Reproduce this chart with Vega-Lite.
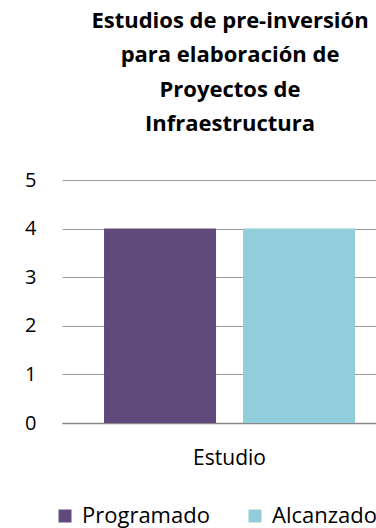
{
  "$schema": "https://vega.github.io/schema/vega-lite/v6.json",
  "width": 314,
  "height": 243,
  "autosize": {"type": "none"},
  "padding": {"left": 62, "top": 180, "right": 0, "bottom": 105},
  "background": "white",
  "title": {
    "text": ["Estudios de pre-inversión", "para elaboración de", "Proyectos de", "Infraestructura"],
    "font": "Open Sans",
    "fontSize": 22,
    "fontWeight": "bold",
    "color": "black",
    "lineHeight": 34.5,
    "anchor": "middle",
    "frame": "group",
    "baseline": "bottom",
    "dx": 11,
    "offset": 12
  },
  "config": {"view": {"stroke": null}},
  "data": {
    "values": [
      {"categoria": "Estudio", "serie": "Programado", "valor": 4},
      {"categoria": "Estudio", "serie": "Alcanzado", "valor": 4}
    ]
  },
  "mark": {"type": "bar"},
  "encoding": {
    "x": {
      "field": "categoria",
      "type": "nominal",
      "scale": {"paddingInner": 0, "paddingOuter": 0.1255, "align": 0.667},
      "axis": {
        "title": null,
        "labelAngle": 0,
        "labelFont": "Open Sans",
        "labelFontSize": 21,
        "labelColor": "black",
        "labelPadding": 24,
        "ticks": false,
        "domainColor": "#888888",
        "domainWidth": 1.5,
        "grid": false
      }
    },
    "xOffset": {
      "field": "serie",
      "type": "nominal",
      "sort": ["Programado", "Alcanzado"],
      "scale": {"paddingInner": 0.194, "paddingOuter": 0}
    },
    "y": {
      "field": "valor",
      "type": "quantitative",
      "scale": {"domain": [0, 5]},
      "axis": {
        "values": [0, 1, 2, 3, 4, 5],
        "title": null,
        "domain": false,
        "ticks": false,
        "labelPadding": 26,
        "labelFont": "Open Sans",
        "labelFontSize": 20,
        "labelColor": "black",
        "gridColor": "#999999",
        "gridWidth": 1
      }
    },
    "color": {
      "field": "serie",
      "type": "nominal",
      "sort": ["Programado", "Alcanzado"],
      "scale": {"range": ["#604A7B", "#92CDDC"]},
      "legend": {
        "orient": "none",
        "legendX": -8,
        "legendY": 325,
        "direction": "horizontal",
        "title": null,
        "symbolType": "square",
        "symbolSize": 169,
        "symbolStrokeWidth": 0,
        "labelFont": "Open Sans",
        "labelFontSize": 22,
        "labelColor": "black",
        "labelOffset": 6,
        "columnPadding": 34,
        "labelLimit": 300
      }
    }
  }
}
